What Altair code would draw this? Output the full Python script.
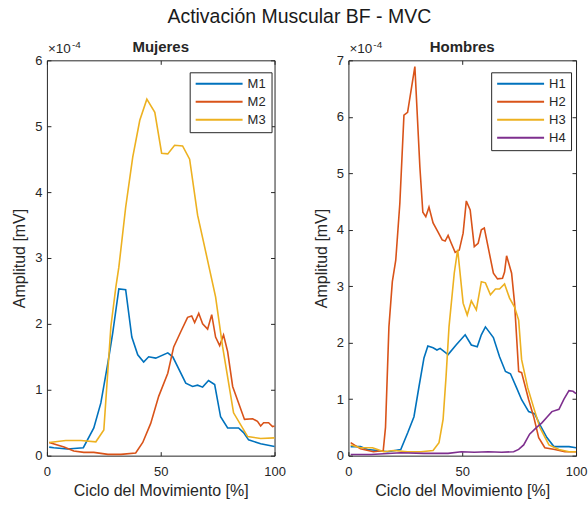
import altair as alt
import pandas as pd

# ---------------- data ----------------
# Mujeres (values x 1e-4 mV)
M1_x = [1, 3, 9, 16, 20.6, 23.7, 26.8, 28.9, 31.6, 34.6, 37.3, 39.9, 42.5, 44.7, 47.8, 53.1, 55.3, 61, 64, 66.2, 68.4, 71, 73.7, 76.3, 79.4, 84.2, 86.4, 88.6, 93.9, 100]
M1_y = [0.13, 0.12, 0.10, 0.12, 0.42, 0.80, 1.41, 1.86, 2.53, 2.52, 1.80, 1.53, 1.42, 1.50, 1.48, 1.56, 1.50, 1.10, 1.05, 1.07, 1.04, 1.14, 1.08, 0.59, 0.42, 0.42, 0.35, 0.24, 0.18, 0.14]

M2_x = [1, 7.5, 11.8, 16.2, 20.6, 26.8, 32.5, 39, 42.1, 45.6, 49.1, 53.1, 55.7, 58.8, 61.8, 63.6, 64.9, 66.7, 68.4, 70.6, 72.4, 74.1, 75.9, 77.6, 79.4, 81.6, 84.2, 86.8, 90.4, 92.5, 93.9, 95.2, 97.4, 99.1, 100]
M2_y = [0.20, 0.13, 0.07, 0.05, 0.05, 0.02, 0.02, 0.04, 0.20, 0.49, 0.90, 1.25, 1.65, 1.88, 2.10, 2.12, 2.02, 2.16, 2.00, 1.92, 2.14, 1.80, 1.67, 1.83, 1.58, 1.05, 0.80, 0.55, 0.56, 0.52, 0.45, 0.50, 0.50, 0.44, 0.45]

M3_x = [1, 8.3, 14.9, 21.5, 25, 28.1, 30.3, 31.6, 34.6, 37.7, 40.8, 43.9, 47.4, 50.4, 53.1, 56.1, 59.6, 62.7, 66.2, 68.9, 71.5, 74.1, 77.2, 82, 88.2, 93.9, 100]
M3_y = [0.20, 0.23, 0.23, 0.21, 0.39, 1.96, 2.56, 2.86, 3.77, 4.53, 5.09, 5.41, 5.21, 4.59, 4.58, 4.71, 4.70, 4.50, 3.65, 3.23, 2.82, 2.41, 1.65, 0.65, 0.29, 0.26, 0.27]

# Hombres (values x 1e-4 mV)
H1_x = [1, 5.3, 8.4, 12.8, 17.3, 23, 26.1, 28.8, 31, 33.2, 34.9, 37.2, 38.9, 40.3, 43.8, 47.3, 51.3, 54, 56.6, 58.4, 60.2, 63.7, 66.4, 69, 71.2, 73.9, 76.1, 79.2, 81.9, 84.1, 87.2, 90.3, 92.9, 96.9, 100]
H1_y = [0.16, 0.16, 0.11, 0.09, 0.07, 0.11, 0.41, 0.69, 1.22, 1.73, 1.94, 1.91, 1.87, 1.90, 1.79, 1.96, 2.14, 1.96, 1.93, 2.14, 2.28, 2.09, 1.75, 1.49, 1.45, 1.20, 0.99, 0.78, 0.74, 0.55, 0.32, 0.16, 0.16, 0.16, 0.14]

H2_x = [1, 5.3, 11, 15.3, 16.3, 17.8, 19.3, 20.8, 22.6, 24.4, 26, 29.2, 31.4, 32.7, 34, 35.4, 37.2, 39.4, 41.2, 42.5, 43.8, 45.1, 46.9, 48.7, 50.4, 51.8, 53.5, 55.3, 57, 58.4, 59.7, 61.9, 63.7, 65.5, 67.7, 68.6, 69.5, 71.7, 73, 74.8, 76.1, 79.2, 81.4, 83.6, 86.3, 90.7, 95.1, 100]
H2_y = [0.23, 0.12, 0.07, 0.09, 0.50, 2.28, 3.08, 3.46, 4.47, 6.03, 6.08, 6.89, 5.11, 4.31, 4.23, 4.40, 4.12, 3.96, 3.82, 3.80, 3.90, 3.77, 3.60, 3.64, 3.94, 4.51, 4.35, 3.70, 3.76, 4.00, 4.03, 3.59, 3.23, 3.13, 3.14, 3.25, 3.54, 3.23, 2.70, 1.49, 1.47, 0.99, 0.69, 0.32, 0.14, 0.11, 0.07, 0.07]

H3_x = [1, 5.3, 10.6, 12.8, 15.5, 19.9, 26, 31.9, 37.2, 39.8, 41.6, 42.9, 44.2, 46.5, 48, 50.4, 52.2, 54, 56.2, 58.4, 60.2, 62.4, 64.6, 66.4, 68.6, 70.8, 73, 74.8, 76.1, 78.8, 81.4, 84.1, 88.1, 92.5, 96.9, 100]
H3_y = [0.19, 0.14, 0.14, 0.11, 0.07, 0.09, 0.07, 0.07, 0.09, 0.23, 0.64, 1.40, 2.28, 3.23, 3.65, 2.70, 2.49, 2.74, 2.58, 3.08, 3.06, 2.85, 2.95, 2.95, 3.04, 2.79, 2.63, 2.40, 1.70, 1.20, 0.85, 0.50, 0.19, 0.11, 0.07, 0.07]

H4_x = [1, 10, 23, 33.2, 43.8, 49.6, 55.3, 61.5, 67.3, 72.6, 74.8, 77, 79.6, 82.7, 85, 87.2, 89.4, 92.5, 94.7, 96.9, 98.7, 100]
H4_y = [0.02, 0.02, 0.05, 0.04, 0.04, 0.07, 0.06, 0.07, 0.06, 0.07, 0.11, 0.19, 0.38, 0.50, 0.58, 0.68, 0.78, 0.82, 1.00, 1.15, 1.14, 1.10]

M_names = ["M1", "M2", "M3"]
H_names = ["H1", "H2", "H3", "H4"]
X_TICKS = [0, 50, 100]

# ---------------- styling ----------------
COLORS = ["#0072BD", "#D95319", "#EDB120", "#7E2F8E"]
FONT = "Liberation Sans"
AX = "#262626"
W, H = 228, 396


def make_df(names, xs, ys):
    rows = []
    for n, xx, yy in zip(names, xs, ys):
        for a, b in zip(xx, yy):
            rows.append({"serie": n, "x": a, "y": b})
    return pd.DataFrame(rows)


def txt(label, size, x, y, align="left", weight="normal"):
    return alt.Chart(pd.DataFrame({"t": [label]})).mark_text(
        align=align, baseline="alphabetic", fontSize=size, color=AX, font=FONT, fontWeight=weight
    ).encode(text="t:N", x=alt.value(x), y=alt.value(y))


def panel(df, names, ymax, title):
    xscale = alt.Scale(domain=[0, 100], nice=False, zero=False)
    yscale = alt.Scale(domain=[0, ymax], nice=False)
    yticks = list(range(0, ymax + 1))
    color = alt.Color(
        "serie:N",
        scale=alt.Scale(domain=names, range=COLORS[: len(names)]),
        legend=alt.Legend(title=None, orient="none", legendX=143, legendY=12),
    )
    lines = alt.Chart(df).mark_line(strokeWidth=1.6).encode(
        x=alt.X("x:Q", scale=xscale,
                axis=alt.Axis(orient="bottom", values=X_TICKS, title="Ciclo del Movimiento [%]",
                              domain=False, grid=False, tickSize=4, offset=-4,
                              labelFlush=False, labelPadding=10, titlePadding=4)),
        y=alt.Y("y:Q", scale=yscale,
                axis=alt.Axis(orient="left", values=yticks, title="Amplitud [mV]",
                              domain=False, grid=False, tickSize=4, offset=-4,
                              labelFlush=False, labelPadding=5, titlePadding=7)),
        color=color,
    )
    ghost = alt.Chart(df).mark_line(opacity=0).encode(
        x=alt.X("x:Q", scale=xscale,
                axis=alt.Axis(orient="top", values=X_TICKS, title=None, labels=False,
                              domain=False, grid=False, tickSize=4, offset=-4,
                              minExtent=0, maxExtent=0)),
        y=alt.Y("y:Q", scale=yscale,
                axis=alt.Axis(orient="right", values=yticks, title=None, labels=False,
                              domain=False, grid=False, tickSize=4, offset=-4,
                              minExtent=0, maxExtent=0)),
        detail="serie:N",
    )
    layers = [
        lines, ghost,
        txt("×10", 13.5, 1, -7),
        txt("-4", 10, 25, -12),
        txt(title, 15, W / 2, -8, align="center", weight="bold"),
    ]
    return alt.layer(*layers).resolve_axis(
        x="independent", y="independent"
    ).properties(width=W, height=H)


left = panel(make_df(M_names, [M1_x, M2_x, M3_x], [M1_y, M2_y, M3_y]), M_names, 6, "Mujeres")
right = panel(make_df(H_names, [H1_x, H2_x, H3_x, H4_x], [H1_y, H2_y, H3_y, H4_y]), H_names, 7, "Hombres")

chart = alt.hconcat(left, right, spacing=26).resolve_scale(color="independent").properties(
    title=alt.TitleParams("Activación Muscular BF - MVC", fontSize=19.5, fontWeight="normal",
                          color="#1a1a1a", font=FONT, anchor="middle", offset=12),
    padding={"left": 11, "top": 7, "right": 0, "bottom": 0},
).configure(
    font=FONT, background="white"
).configure_view(
    stroke=AX, strokeWidth=1
).configure_axis(
    labelFont=FONT, labelFontSize=13, labelColor=AX,
    titleFont=FONT, titleFontSize=16, titleColor=AX, titleFontWeight="normal",
    tickColor=AX, tickWidth=1,
).configure_legend(
    symbolType="stroke", symbolSize=2209, symbolStrokeWidth=2, clipHeight=13,
    labelFont=FONT, labelFontSize=13, labelColor=AX, labelOffset=4,
    rowPadding=4, padding=5, strokeColor=AX, fillColor="white", cornerRadius=0,
)

chart.save("out.html", embed_options={"renderer": "svg", "actions": False})
